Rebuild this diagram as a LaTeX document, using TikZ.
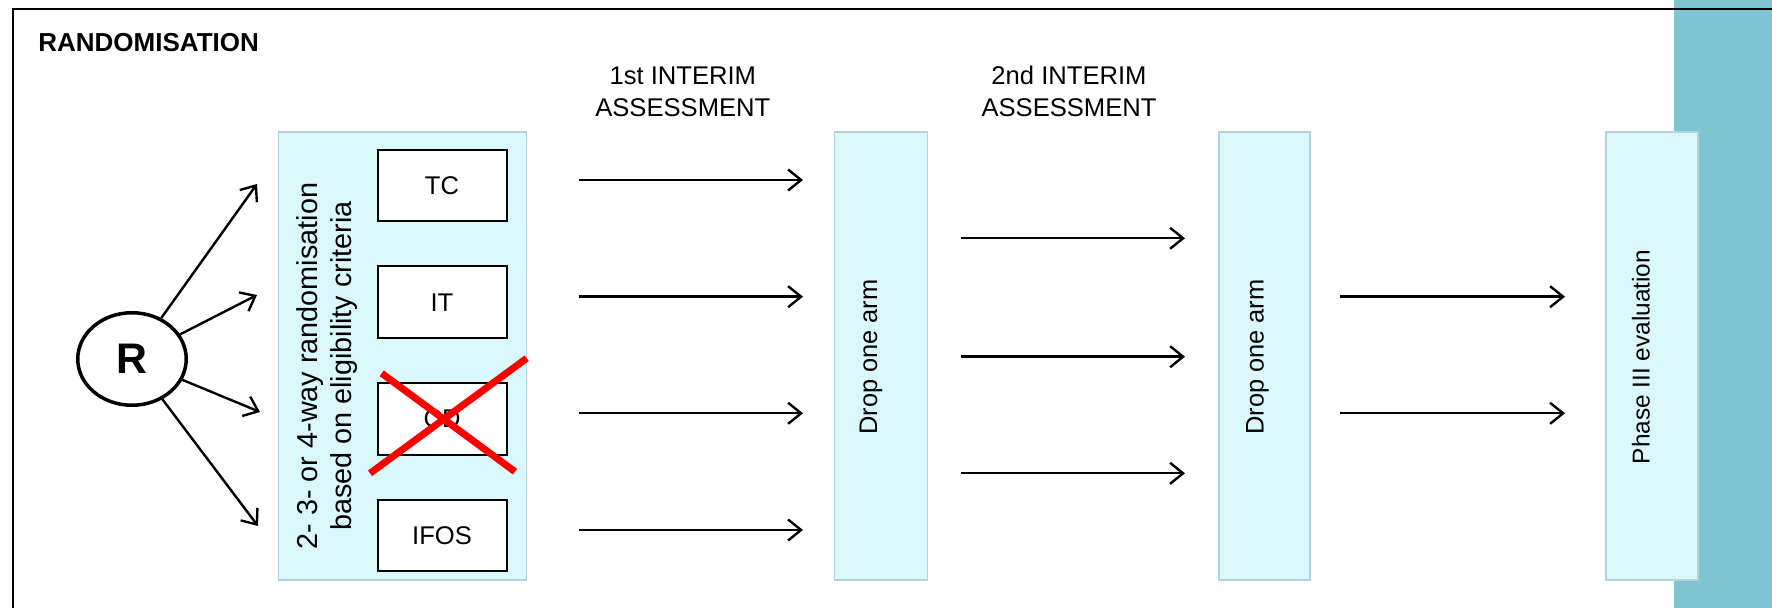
\documentclass[tikz,border=0pt]{standalone}
\usepackage{fontspec}
\setmainfont{Liberation Sans}
\usetikzlibrary{arrows.meta,positioning,shapes.geometric}
\definecolor{paleblue}{RGB}{218,248,252}
\definecolor{paleedge}{RGB}{180,210,218}
\definecolor{bandteal}{RGB}{127,196,211}
\tikzset{font=\fontsize{12.8}{16}\selectfont}
\tikzstyle{stage}=[rectangle,draw=paleedge,fill=paleblue,line width=0.6pt,inner sep=0pt,minimum height=224pt]
\tikzstyle{arm}=[rectangle,draw,line width=1pt,fill=white,minimum width=64.5pt,minimum height=35.8pt,inner sep=0pt]

\begin{document}
\begin{tikzpicture}[x=0.5pt,y=-0.5pt,>={Straight Barb[length=6.5pt,width=10.5pt]}]
\useasboundingbox (0,0) rectangle (1772,608);
\fill[bandteal] (1674,0) rectangle (1772,608);
\draw[line width=1.2pt] (13,608) -- (13,9) -- (1772,9);
\node[anchor=base west,inner sep=0pt,font=\fontsize{13}{16}\selectfont\bfseries] (title) at (38,52) {RANDOMISATION};
\node[ellipse,draw,line width=1.75pt,minimum width=54.25pt,minimum height=46.25pt,inner sep=0pt,font=\fontsize{21.4}{24}\selectfont\bfseries] (R) at (132,359) {R};
\node[stage,minimum width=124.2pt] (rand) at (402.5,356) {};
\node[stage,minimum width=46.5pt] (drop1) at (881,356) {};
\node[stage,minimum width=45.5pt] (drop2) at (1264.5,356) {};
\node[stage,minimum width=46pt] (phase) at (1652,356) {};
\node[arm] (TC) at (442,185.5) {TC};
\node[arm] (IT) at (442,302.2) {IT};
\node[arm] (CD) at (442,418.8) {CD};
\node[arm] (IFOS) at (442,535.5) {IFOS};
\draw[red,line width=3.5pt] (381.7,373.3) -- (515,471.7) (370,473.3) -- (526.7,358.3);
\node[rotate=90,align=center,font=\fontsize{14.4}{17.2}\selectfont] (rule) at (327,366) {2- 3- or 4-way randomisation\\based on eligibility criteria};
\node[rotate=90,font=\fontsize{12.7}{16}\selectfont] (dtext1) at (871,357) {Drop one arm};
\node[rotate=90,font=\fontsize{12.7}{16}\selectfont] (dtext2) at (1257.5,357) {Drop one arm};
\node[rotate=90,font=\fontsize{12.2}{16}\selectfont] (ptext) at (1641,357) {Phase III evaluation};
\node[align=center] (first) at (682.8,91.7) {1st INTERIM\\ASSESSMENT};
\node[align=center] (second) at (1069,91.7) {2nd INTERIM\\ASSESSMENT};
% arrows out of R
\coordinate (r1) at (257,184);
\coordinate (r2) at (257,295);
\coordinate (r3) at (260,412);
\coordinate (r4) at (258,526);
\path[->,line width=1.2pt]
(R) edge (r1)
(R) edge (r2)
(R) edge (r3)
(R) edge (r4);
% arrows between the stages
\foreach \y [count=\i] in {180,296.7,413.3,530}{
  \coordinate (a\i) at (579,\y);
  \coordinate (b\i) at (803,\y);
  \draw[->,line width=1.2pt] (a\i) -- (b\i);
}
\foreach \y [count=\i] in {238.3,356.7,473.3}{
  \coordinate (c\i) at (961,\y);
  \coordinate (d\i) at (1185,\y);
  \draw[->,line width=1.2pt] (c\i) -- (d\i);
}
\foreach \y [count=\i] in {296.7,413.3}{
  \coordinate (e\i) at (1340,\y);
  \coordinate (f\i) at (1565,\y);
  \draw[->,line width=1.2pt] (e\i) -- (f\i);
}
\end{tikzpicture}
\end{document}
